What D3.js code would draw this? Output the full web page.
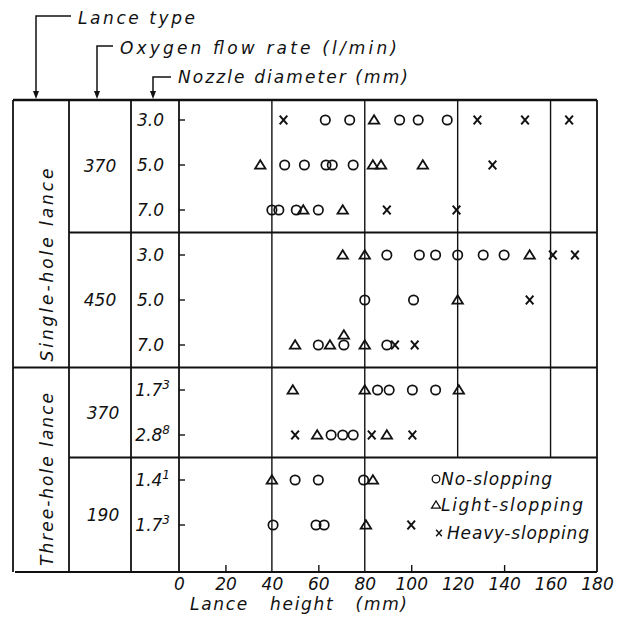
<!DOCTYPE html>
<html>
<head>
<meta charset="utf-8">
<script src="https://cdn.jsdelivr.net/npm/d3@7"></script>
<style>
  body { margin: 0; background: #fff; }
  text { font-family: "DejaVu Sans", sans-serif; font-style: italic; font-size: 17px; fill: #111; }
</style>
</head>
<body>
<svg id="chart" width="631" height="617"></svg>
<script>
// table rows, top to bottom
const lanceTypes = ["Single-hole lance", "Three-hole lance"];
const flowRates = ["370", "450", "370", "190"];
const flowLance = [0, 0, 1, 1];
const nozzleLabels = ["3.0", "5.0", "7.0", "3.0", "5.0", "7.0", "1.7^3", "2.8^8", "1.4^1", "1.7^3"];
const rowFlow = [0, 0, 0, 1, 1, 1, 2, 2, 3, 3];
const xTicks = [0, 20, 40, 60, 80, 100, 120, 140, 160, 180];
const gridValues = [40, 80, 120, 160];

// [row, lance height in mm]
const noSlopping = [
  [0, 63], [0, 73.5], [0, 95], [0, 103], [0, 115.5],
  [1, 45.5], [1, 54], [1, 63.3], [1, 66], [1, 75],
  [2, 40], [2, 43], [2, 50.5], [2, 60],
  [3, 89.5], [3, 103.5], [3, 110.5], [3, 120], [3, 131], [3, 140],
  [4, 80], [4, 101],
  [5, 60], [5, 71], [5, 89.5],
  [6, 85.5], [6, 90.5], [6, 100.5], [6, 110.5],
  [7, 65.5], [7, 70.5], [7, 75],
  [8, 50], [8, 60], [8, 79.5],
  [9, 40.5], [9, 59], [9, 62.5]
];
const lightSlopping = [
  [0, 84],
  [1, 35], [1, 83.5], [1, 87], [1, 105],
  [2, 53.5], [2, 70.5],
  [3, 70.5], [3, 80], [3, 151],
  [4, 120],
  [5, 50], [5, 65], [5, 71], [5, 80],
  [6, 49], [6, 80], [6, 120.5],
  [7, 59.5], [7, 89.5],
  [8, 40], [8, 83.5],
  [9, 80.5]
];
const heavySlopping = [
  [0, 45], [0, 128.5], [0, 149], [0, 168],
  [1, 135],
  [2, 89.5], [2, 119.5],
  [3, 161], [3, 170.5],
  [4, 151],
  [5, 93], [5, 101.5],
  [7, 50], [7, 83], [7, 100.5],
  [9, 100]
];

const svg = d3.select("#chart");

const x = d3.scaleLinear().domain([0, 180]).range([179, 597]);
const y = d3.scaleLinear().domain([0, nozzleLabels.length - 1]).range([120, 525]);
const tableTop = y(0) - 20, tableBottom = y(nozzleLabels.length - 1) + 47;
const colX = [13, 69, 131, x(0)];
const right = x(180);

const last = nozzleLabels.length - 1;
const edgeAbove = i => i === 0 ? tableTop : (y(i - 1) + y(i)) / 2;
const edgeBelow = i => i === last ? tableBottom : (y(i) + y(i + 1)) / 2;

const flowRows = flowRates.map((f, k) => d3.range(nozzleLabels.length).filter(i => rowFlow[i] === k));
const lanceRows = lanceTypes.map((l, k) => d3.range(nozzleLabels.length).filter(i => flowLance[rowFlow[i]] === k));

const lines = svg.append("g").attr("stroke", "#111").attr("fill", "none");

// grid lines at 40, 80, 120, 160 (120 and 160 stop above the legend)
gridValues.forEach(v => {
  const yEnd = v > 100 ? edgeAbove(flowRows[3][0]) : tableBottom;
  lines.append("line").attr("x1", x(v)).attr("x2", x(v)).attr("y1", tableTop).attr("y2", yEnd).attr("stroke-width", 1.4);
});

// table frame
lines.append("line").attr("x1", colX[0]).attr("x2", right).attr("y1", tableTop).attr("y2", tableTop).attr("stroke-width", 2.6);
lines.append("line").attr("x1", colX[0] + 2).attr("x2", right).attr("y1", tableBottom).attr("y2", tableBottom).attr("stroke-width", 2.2);
colX.forEach(cx => lines.append("line").attr("x1", cx).attr("x2", cx).attr("y1", tableTop).attr("y2", tableBottom).attr("stroke-width", 1.8));
lines.append("line").attr("x1", right).attr("x2", right).attr("y1", tableTop).attr("y2", tableBottom).attr("stroke-width", 1.8);

// section separators
lanceRows.slice(1).forEach(rows => {
  const yy = edgeAbove(rows[0]);
  lines.append("line").attr("x1", colX[0]).attr("x2", right).attr("y1", yy).attr("y2", yy).attr("stroke-width", 1.8);
});
flowRows.forEach(rows => {
  if (rows[0] === 0 || lanceRows.some(r => r[0] === rows[0])) return;
  const yy = edgeAbove(rows[0]);
  lines.append("line").attr("x1", colX[1]).attr("x2", right).attr("y1", yy).attr("y2", yy).attr("stroke-width", 1.8);
});

// row ticks on the left edge of the plot
lines.selectAll("line.rowtick").data(nozzleLabels).join("line").attr("class", "rowtick")
  .attr("x1", x(0)).attr("x2", x(0) + 6).attr("y1", (d, i) => y(i)).attr("y2", (d, i) => y(i)).attr("stroke-width", 1.4);

// bottom axis
const xAxis = svg.append("g").attr("transform", `translate(0,${tableBottom})`)
  .call(d3.axisBottom(x).tickValues(xTicks).tickSize(-7).tickPadding(6));
xAxis.select(".domain").remove();
xAxis.selectAll(".tick line").attr("stroke", "#111").attr("stroke-width", 1.4)
  .attr("display", d => (d === 0 || d === 180 || gridValues.includes(d)) ? "none" : null);
xAxis.selectAll(".tick text").attr("fill", "#111").style("font-size", "17px").style("font-family", "DejaVu Sans, sans-serif");

svg.append("text").attr("x", 190).attr("y", 610).style("white-space", "pre")
  .attr("textLength", 217).attr("lengthAdjust", "spacing").text("Lance   height   (mm)");

// nozzle diameter column
nozzleLabels.forEach((lab, i) => {
  const [base, sup] = lab.split("^");
  const t = svg.append("text").attr("x", sup ? 170 : 164).attr("y", y(i) + 6).attr("text-anchor", "end");
  t.append("tspan").text(base);
  if (sup) t.append("tspan").attr("dy", -7).style("font-size", "12px").text(sup);
});

// oxygen flow column
flowRates.forEach((f, k) => {
  const rows = flowRows[k];
  const yc = (edgeAbove(rows[0]) + edgeBelow(rows[rows.length - 1])) / 2;
  svg.append("text").attr("x", (colX[1] + colX[2]) / 2 + (k > 1 ? 3 : 0)).attr("y", yc + 6)
    .attr("text-anchor", "middle").text(f);
});

// lance type column
lanceTypes.forEach((l, k) => {
  const rows = lanceRows[k];
  const yb = edgeBelow(rows[rows.length - 1]) - 6;
  svg.append("text").attr("transform", `translate(53,${yb}) rotate(-90)`)
    .attr("textLength", k === 0 ? 193 : 173).attr("lengthAdjust", "spacing").text(l);
});

// header annotations with hooked arrows
const headers = [
  { label: "Lance type", ax: 36, hy: 16, tx: 78, ty: 24, w: 117 },
  { label: "Oxygen flow rate (l/min)", ax: 97, hy: 46, tx: 120, ty: 54, w: 277 },
  { label: "Nozzle diameter (mm)", ax: 153, hy: 77, tx: 178, ty: 83, w: 230 }
];
headers.forEach(h => {
  svg.append("path").attr("d", `M${h.tx - 7},${h.hy}H${h.ax}V${tableTop - 6}`)
    .attr("fill", "none").attr("stroke", "#111").attr("stroke-width", 1.5);
  svg.append("path").attr("d", `M${h.ax - 3},${tableTop - 9}L${h.ax + 3},${tableTop - 9}L${h.ax},${tableTop - 1}Z`).attr("fill", "#111");
  svg.append("text").attr("x", h.tx).attr("y", h.ty).attr("textLength", h.w).attr("lengthAdjust", "spacing").text(h.label);
});

// markers
const triPath = s => `M${-5.2 * s},${3.6 * s}L${5.2 * s},${3.6 * s}L0,${-4.8 * s}Z`;
const crossPath = s => `M${-3.8 * s},${-4.3 * s}L${3.8 * s},${4.3 * s}M${3.8 * s},${-4.3 * s}L${-3.8 * s},${4.3 * s}`;
const marks = svg.append("g").attr("fill", "none").attr("stroke", "#111");

marks.selectAll("circle.no").data(noSlopping).join("circle").attr("class", "no")
  .attr("cx", d => x(d[1])).attr("cy", d => y(d[0])).attr("r", 4.7).attr("stroke-width", 1.7);

// a light point sharing a spot with a no-slopping point is drawn just above it
const lift = d => noSlopping.some(p => p[0] === d[0] && p[1] === d[1]) ? -10 : 0;
marks.selectAll("path.light").data(lightSlopping).join("path").attr("class", "light")
  .attr("transform", d => `translate(${x(d[1])},${y(d[0]) + lift(d)})`).attr("d", triPath(1)).attr("stroke-width", 1.8);

marks.selectAll("path.heavy").data(heavySlopping).join("path").attr("class", "heavy")
  .attr("transform", d => `translate(${x(d[1])},${y(d[0])})`).attr("d", crossPath(1)).attr("stroke-width", 2);

// legend
const legendItems = [
  { label: "No-slopping", kind: "no", y: 479, w: 111 },
  { label: "Light-slopping", kind: "light", y: 505, w: 142 },
  { label: "Heavy-slopping", kind: "heavy", y: 533, w: 142 }
];
const legend = svg.append("g");
legendItems.forEach(it => {
  if (it.kind === "no") legend.append("circle").attr("cx", 436).attr("cy", it.y).attr("r", 3.8).attr("fill", "none").attr("stroke", "#111").attr("stroke-width", 1.3);
  if (it.kind === "light") legend.append("path").attr("transform", `translate(436,${it.y})`).attr("d", triPath(0.85)).attr("fill", "none").attr("stroke", "#111").attr("stroke-width", 1.3);
  if (it.kind === "heavy") legend.append("path").attr("transform", `translate(439,${it.y})`).attr("d", crossPath(0.75)).attr("fill", "none").attr("stroke", "#111").attr("stroke-width", 1.4);
  legend.append("text").attr("x", it.kind === "heavy" ? 447 : 441).attr("y", it.y + 6)
    .attr("textLength", it.w).attr("lengthAdjust", "spacing").text(it.label);
});
</script>
</body>
</html>
